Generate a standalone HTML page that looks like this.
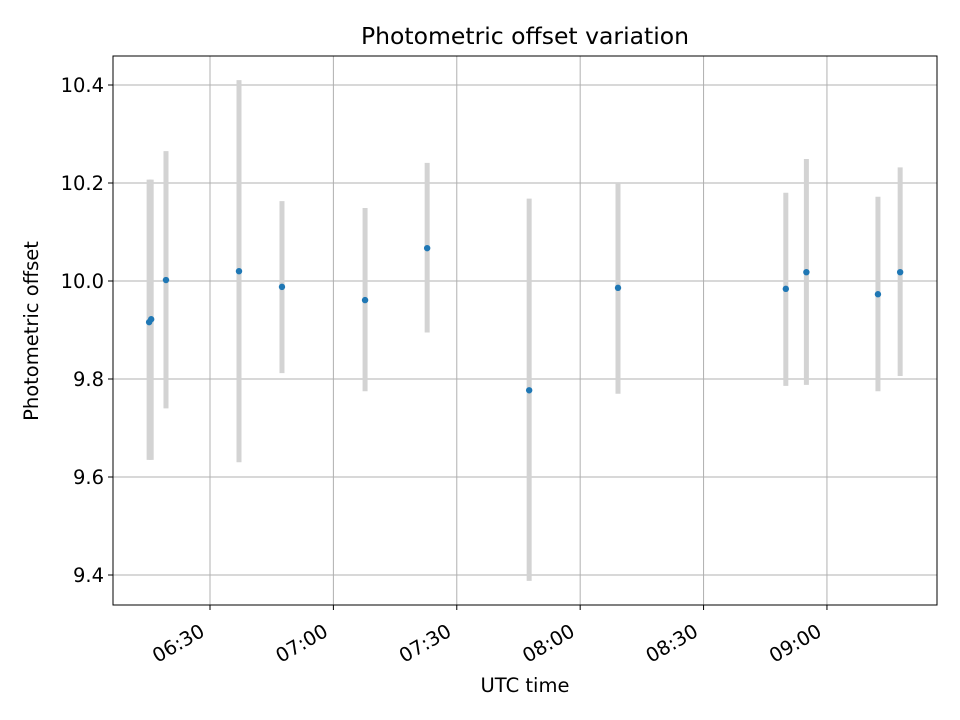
<!DOCTYPE html>
<html><head><meta charset="utf-8"><style>
body{margin:0;background:#fff;}
svg{display:block;font-family:"DejaVu Sans","Liberation Sans",sans-serif;}
</style></head><body>
<svg id="chart" width="960" height="720"></svg>
<script>
// data: minutes after 06:00 UTC
const times = [15.2, 15.7, 19.3, 37.05, 47.5, 67.7, 82.8, 107.6, 129.2, 170.0, 175.0, 192.4, 197.8];
const values = [9.916, 9.922, 10.002, 10.02, 9.988, 9.961, 10.067, 9.777, 9.986, 9.984, 10.018, 9.973, 10.018];
const errLow = [9.635, 9.635, 9.74, 9.63, 9.812, 9.775, 9.895, 9.388, 9.77, 9.786, 9.788, 9.775, 9.806];
const errHigh = [10.207, 10.207, 10.265, 10.41, 10.163, 10.149, 10.241, 10.168, 10.2, 10.18, 10.249, 10.172, 10.232];
const yTicks = [9.4, 9.6, 9.8, 10.0, 10.2, 10.4];
const xTicks = [30, 60, 90, 120, 150, 180];
const xTickLabels = ["06:30", "07:00", "07:30", "08:00", "08:30", "09:00"];

const L=113,R=937,T=56,B=605;
const xs = m => 210 + (m-30)*4.113;
const ys = v => 281 - (v-10)*490;
const svg=document.getElementById('chart');
const NS='http://www.w3.org/2000/svg';
function mk(tag,attrs,parent){const e=document.createElementNS(NS,tag);for(const k in attrs)e.setAttribute(k,attrs[k]);(parent||svg).appendChild(e);return e;}

const grid=mk('g',{});


yTicks.forEach((v,i)=>{
  const y=ys(v);
  const gl=mk('line',{x1:L,x2:R,y1:y,y2:y,stroke:'#b0b0b0','stroke-width':1},grid);
  
  
  const tk=mk('line',{x1:L-5,x2:L,y1:y,y2:y,stroke:'#000','stroke-width':1});
  
  
  const t=mk('text',{x:L-9,y:y+7,'text-anchor':'end','font-size':19.5});
  t.textContent=v.toFixed(1);
  
  
});
xTicks.forEach((m,i)=>{
  const x=xs(m);
  const gl=mk('line',{x1:x,x2:x,y1:T,y2:B,stroke:'#b0b0b0','stroke-width':1},grid);
  
  
  const tk=mk('line',{x1:x,x2:x,y1:B,y2:B+5,stroke:'#000','stroke-width':1});
  
  
  const tx=x-4, ty=B+30;
  const t=mk('text',{x:tx,y:ty,'text-anchor':'end','font-size':19.5,transform:`rotate(-30 ${tx} ${ty})`});
  t.textContent=xTickLabels[i];
  
  
});

times.forEach((m,i)=>{
  const x=xs(m);
  const eb=mk('line',{x1:x,x2:x,y1:ys(errHigh[i]),y2:ys(errLow[i]),stroke:'#d3d3d3','stroke-width':5});
  
  
});
times.forEach((m,i)=>{
  const p=mk('circle',{cx:xs(m),cy:ys(values[i]),r:3.2,fill:'#1f77b4'});
  
  
});

const frame=mk('rect',{x:L,y:T,width:R-L,height:B-T,fill:'none',stroke:'#000','stroke-width':1});



const title=mk('text',{x:(L+R)/2,y:44,'text-anchor':'middle','font-size':23.5});
title.textContent='Photometric offset variation';


const xl=mk('text',{x:(L+R)/2,y:692,'text-anchor':'middle','font-size':19.5});
xl.textContent='UTC time';


const yl=mk('text',{x:38,y:331,'text-anchor':'middle','font-size':19.5,transform:'rotate(-90 38 331)'});
yl.textContent='Photometric offset';


</script>
</body></html>
